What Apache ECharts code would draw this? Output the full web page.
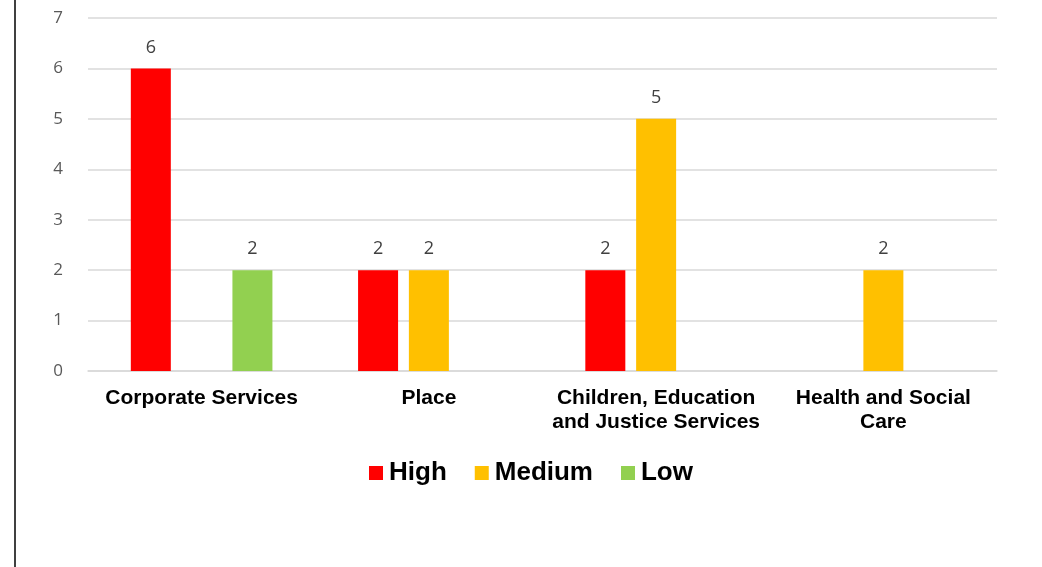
<!DOCTYPE html>
<html>
<head>
<meta charset="utf-8">
<script src="https://cdn.jsdelivr.net/npm/echarts@6/dist/echarts.min.js"></script>
<style>html,body{margin:0;padding:0;background:#fff;}#c{width:1042px;height:567px;}</style>
</head>
<body>
<div id="c"></div>
<script>
const categories = ['Corporate Services', 'Place', 'Children, Education\nand Justice Services', 'Health and Social\nCare'];
const seriesNames = ['High', 'Medium', 'Low'];
const highValues = [6, 2, 2, null];
const mediumValues = [null, 2, 5, 2];
const lowValues = [2, null, null, null];
const yTicks = [0, 1, 2, 3, 4, 5, 6, 7];
const colors = ['#FF0000', '#FFC000', '#92D050'];

const chart = echarts.init(document.getElementById('c'), null, {renderer: 'canvas'});
const valueSets = [highValues, mediumValues, lowValues];
const labelFont = '"Open Sans", "Noto Sans", sans-serif';

chart.setOption({
  animation: false,
  backgroundColor: '#ffffff',
  color: colors,
  grid: {left: 88, right: 45, top: 18, bottom: 196, containLabel: false},
  legend: {
    data: seriesNames,
    left: 369,
    top: 460,
    padding: 0,
    itemWidth: 14,
    itemHeight: 14,
    itemGap: 28,
    icon: 'rect',
    textStyle: {fontFamily: '"Liberation Sans", Arial, sans-serif', fontWeight: 'bold', fontSize: 26, color: '#000', padding: [0, 0, 0, 1]}
  },
  xAxis: {
    type: 'category',
    data: categories,
    axisLine: {show: true, lineStyle: {color: '#d9d9d9', width: 1.5}},
    axisTick: {show: false},
    axisLabel: {
      interval: 0,
      margin: 15,
      fontFamily: '"Liberation Sans", Arial, sans-serif',
      fontWeight: 'bold',
      fontSize: 21,
      lineHeight: 24,
      color: '#000'
    }
  },
  yAxis: {
    type: 'value',
    min: yTicks[0],
    max: yTicks[yTicks.length - 1],
    interval: 1,
    axisLine: {show: false},
    axisTick: {show: false},
    splitLine: {lineStyle: {color: '#d9d9d9', width: 1.5}},
    axisLabel: {margin: 25, fontFamily: labelFont, fontSize: 17, color: '#595959'}
  },
  graphic: [{
    type: 'line',
    shape: {x1: 15, y1: 0, x2: 15, y2: 567},
    style: {stroke: '#404040', lineWidth: 2}
  }],
  series: seriesNames.map((name, i) => ({
    name: name,
    type: 'bar',
    data: valueSets[i],
    barWidth: 40,
    barGap: '27%',
    itemStyle: {color: colors[i]},
    label: {
      show: true,
      position: 'top',
      distance: 12,
      fontFamily: labelFont,
      fontSize: 18,
      color: '#404040'
    }
  }))
});
</script>
</body>
</html>
